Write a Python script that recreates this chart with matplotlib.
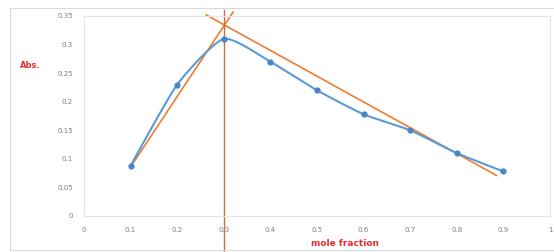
import matplotlib

matplotlib.use("Agg")
import matplotlib.pyplot as plt
import numpy as np
from matplotlib.patches import Rectangle

# data
mole_fraction = [0.1, 0.2, 0.3, 0.4, 0.5, 0.6, 0.7, 0.8, 0.9]
absorbance = [0.088, 0.23, 0.31, 0.27, 0.22, 0.178, 0.15, 0.11, 0.078]

# hand-drawn tangent lines (end points)
left_line_x = [0.105, 0.32]
left_line_y = [0.092, 0.357]
right_line_x = [0.262, 0.885]
right_line_y = [0.352, 0.071]
vline_x = 0.3
vline_y = [-0.065, 0.36]

x_ticks = [0, 0.1, 0.2, 0.3, 0.4, 0.5, 0.6, 0.7, 0.8, 0.9, 1]
x_tick_labels = ["0", "0.1", "0.2", "0.3", "0.4", "0.5", "0.6", "0.7", "0.8", "0.9", "1"]
y_ticks = [0, 0.05, 0.1, 0.15, 0.2, 0.25, 0.3, 0.35]
y_tick_labels = ["0", "0.05", "0.1", "0.15", "0.2", "0.25", "0.3", "0.35"]


def smooth(x, y, n=20, tension=0.3):
    # hermite curve through the points, softer than plain catmull-rom
    x = np.asarray(x, float)
    y = np.asarray(y, float)
    px = np.concatenate([[x[0]], x, [x[-1]]])
    py = np.concatenate([[y[0]], y, [y[-1]]])
    t = np.linspace(0, 1, n)
    h00 = 2 * t ** 3 - 3 * t ** 2 + 1
    h10 = t ** 3 - 2 * t ** 2 + t
    h01 = -2 * t ** 3 + 3 * t ** 2
    h11 = t ** 3 - t ** 2
    xs, ys = [], []
    for i in range(1, len(px) - 2):
        for p, out in ((px, xs), (py, ys)):
            m1 = tension * (p[i + 1] - p[i - 1])
            m2 = tension * (p[i + 2] - p[i])
            out.append(h00 * p[i] + h10 * m1 + h01 * p[i + 1] + h11 * m2)
    return np.concatenate(xs), np.concatenate(ys)


fig = plt.figure(figsize=(5.54, 2.52), dpi=100)
fig.patches.append(Rectangle((10 / 554, 2 / 252), 0.99, 242 / 252, transform=fig.transFigure,
                             fill=False, edgecolor="#D9D9D9", lw=0.8))
ax = fig.add_axes([84 / 554, 1 - 216 / 252, 466 / 554, 200 / 252])

sx, sy = smooth(mole_fraction, absorbance)
ax.plot(sx, sy, color="#5B9BD5", lw=1.5, zorder=3)
ax.plot(mole_fraction, absorbance, "o", color="#4A86C5", ms=3.5, zorder=4)

ax.plot(left_line_x, left_line_y, color="#ED7D31", lw=1.2, clip_on=False, zorder=2)
ax.plot(right_line_x, right_line_y, color="#ED7D31", lw=1.2, clip_on=False, zorder=2)
ax.plot([vline_x, vline_x], vline_y, color="#C8703A", lw=1.0, clip_on=False, zorder=2)

ax.set_xlim(0, 1)
ax.set_ylim(0, 0.35)
ax.set_xticks(x_ticks)
ax.set_xticklabels(x_tick_labels)
ax.set_yticks(y_ticks)
ax.set_yticklabels(y_tick_labels)
ax.tick_params(length=0, labelsize=5, colors="#7F7F7F", pad=8)
for s in ax.spines.values():
    s.set_color("#E4E4E4")
    s.set_linewidth(0.8)

fig.text(30 / 554, 1 - 65 / 252, "Abs.", color="#E0302A", fontsize=6, fontweight="bold",
         ha="center", va="center")
fig.text(345 / 554, 1 - 243 / 252, "mole fraction", color="#E0302A", fontsize=6.5,
         fontweight="bold", ha="center", va="center")

fig.savefig("out.png", dpi=100)
